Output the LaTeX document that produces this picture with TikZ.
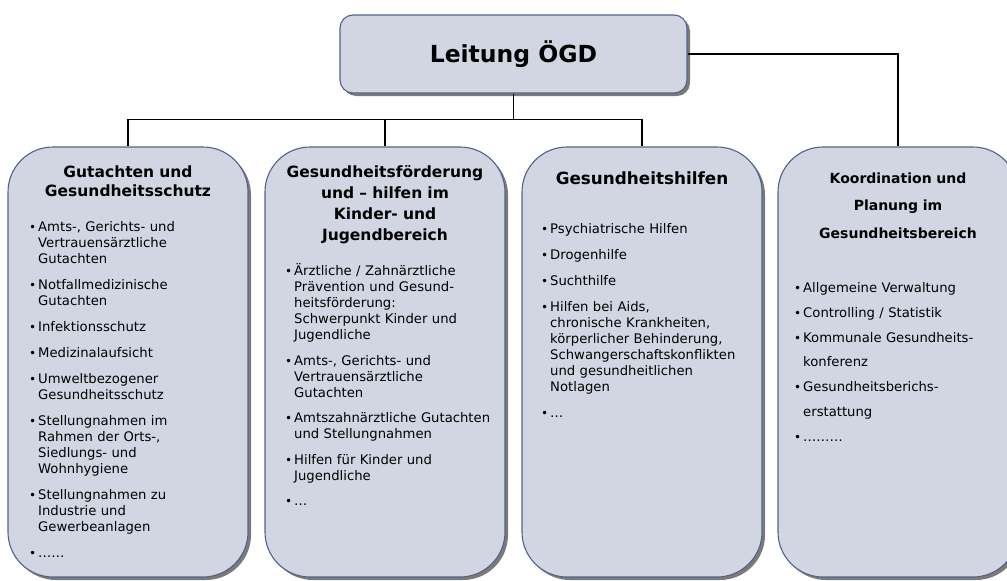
\documentclass[tikz,border=0pt]{standalone}
\usepackage{fontspec}
\setmainfont{DejaVu Sans}
\usetikzlibrary{shadows}

\definecolor{boxfill}{HTML}{D1D6E2}
\definecolor{boxedge}{HTML}{52628A}
\definecolor{boxshade}{HTML}{7A7A7A}

% hanging bullet item; \bind is the bullet column, \\ breaks a line inside the item
\newlength\bind
\setlength\bind{9pt}
\newcommand\bulmark{{\fontsize{12}{12}\selectfont •}}
\newcommand\bitem[1]{\noindent\hangindent=\bind\hangafter=1\relax
  \makebox[\bind][l]{\bulmark}\begingroup\let\\\newline#1\endgroup\par}

\tikzset{
  shadowed/.style={drop shadow={shadow xshift=3pt, shadow yshift=-3pt, fill=boxshade, opacity=1}},
  headbox/.style={shadowed, draw=boxedge, fill=boxfill, line width=1.1pt, rounded corners=13pt,
    minimum width=347pt, minimum height=78pt, inner sep=0pt},
  colbox/.style={shadowed, draw=boxedge, fill=boxfill, line width=1.1pt, rounded corners=45pt,
    minimum width=240pt, minimum height=430pt, inner sep=0pt},
  headtitle/.style={font=\fontsize{23.5}{27}\selectfont\bfseries, inner sep=0pt, anchor=base},
  coltitle/.style={inner sep=0pt, anchor=base, text width=236pt, align=center},
  itemlist/.style={inner sep=0pt, anchor=base west, text width=225pt, align=left},
  link/.style={line width=1.2pt, black},
}

\begin{document}
\begin{tikzpicture}[x=1pt, y=-1pt]
\useasboundingbox (0,0) rectangle (1007,581);
\clip (0,0) rectangle (1007,581);

% boxes
\node[headbox] (head) at (513.5,54) {};
\node[colbox] (c1) at (128,362) {};
\node[colbox] (c2) at (385,362) {};
\node[colbox] (c3) at (642,362) {};
\node[colbox] (c4) at (898,362) {};

% connectors
\draw[link] (head.south) -- ++(0,26) coordinate (bus);
\draw[link] (c1.north) |- (bus) -| (c3.north);
\draw[link] (c2.north) -- (c2.north |- bus);
\draw[link] (head.east) -| (c4.north);

% head title
\node[headtitle] (headtxt) at (513.5,62.5) {Leitung ÖGD};

% column titles
\node[coltitle, font=\fontsize{15.5}{19.5}\selectfont\bfseries] (t1) at (128,177)
  {Gutachten und\\Gesundheitsschutz};
\node[coltitle, font=\fontsize{15.5}{21}\selectfont\bfseries] (t2) at (385,177)
  {Gesundheitsförderung\\und – hilfen im\\Kinder- und\\Jugendbereich};
\node[coltitle, font=\fontsize{16.8}{20}\selectfont\bfseries] (t3) at (642,184)
  {Gesundheitshilfen};
\node[coltitle, font=\fontsize{14}{27.5}\selectfont\bfseries] (t4) at (898,183)
  {Koordination und\\Planung im\\Gesundheitsbereich};

% item lists
\node[itemlist, font=\fontsize{13.2}{16}\selectfont] (l1) at (29,231.5) {%
  \setlength\parskip{10pt}%
  \bitem{Amts-, Gerichts- und\\Vertrauensärztliche\\Gutachten}%
  \bitem{Notfallmedizinische\\Gutachten}%
  \bitem{Infektionsschutz}%
  \bitem{Medizinalaufsicht}%
  \bitem{Umweltbezogener\\Gesundheitsschutz}%
  \bitem{Stellungnahmen im\\Rahmen der Orts-,\\Siedlungs- und\\Wohnhygiene}%
  \bitem{Stellungnahmen zu\\Industrie und\\Gewerbeanlagen}%
  \bitem{……}};

\node[itemlist, font=\fontsize{13.2}{16}\selectfont] (l2) at (285,275.5) {%
  \setlength\parskip{9.5pt}%
  \bitem{Ärztliche / Zahnärztliche\\Prävention und Gesund-\\heitsförderung:\\Schwerpunkt Kinder und\\Jugendliche}%
  \bitem{Amts-, Gerichts- und\\Vertrauensärztliche\\Gutachten}%
  \bitem{Amtszahnärztliche Gutachten\\und Stellungnahmen}%
  \bitem{Hilfen für Kinder und\\Jugendliche}%
  \bitem{…}};

\node[itemlist, font=\fontsize{13.2}{16}\selectfont] (l3) at (541,233.5) {%
  \setlength\parskip{10pt}%
  \bitem{Psychiatrische Hilfen}%
  \bitem{Drogenhilfe}%
  \bitem{Suchthilfe}%
  \bitem{Hilfen bei Aids,\\chronische Krankheiten,\\körperlicher Behinderung,\\Schwangerschaftskonflikten\\und gesundheitlichen\\Notlagen}%
  \bitem{…}};

\node[itemlist, font=\fontsize{13.2}{24.8}\selectfont] (l4) at (794,292.5) {%
  \setlength\parskip{0pt}%
  \bitem{Allgemeine Verwaltung}%
  \bitem{Controlling / Statistik}%
  \bitem{Kommunale Gesundheits-\\konferenz}%
  \bitem{Gesundheitsberichs-\\erstattung}%
  \bitem{………}};
\end{tikzpicture}
\end{document}
